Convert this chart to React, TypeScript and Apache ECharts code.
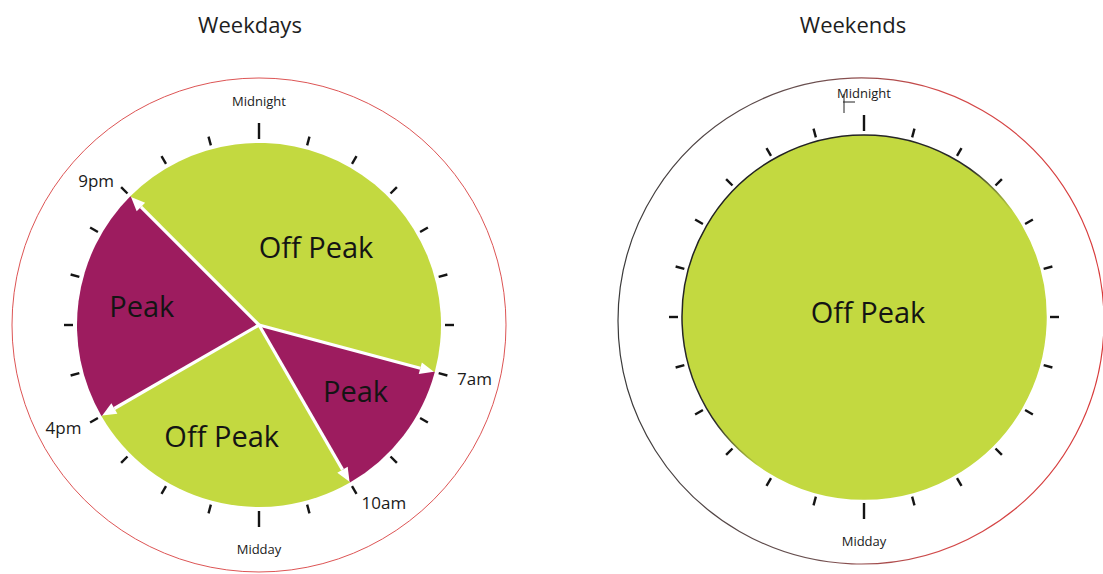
import React, { useEffect, useRef } from "react";
import * as echarts from "echarts";

// ---- data ----
const clockHours = [0, 1, 2, 3, 4, 5, 6, 7, 8, 9, 10, 11, 12, 13, 14, 15, 16, 17, 18, 19, 20, 21, 22, 23];
const dialLabelTexts = ["Midnight", "Midday"];
const dialLabelHours = [0, 12];

const weekdayNames = ["Off Peak", "Peak", "Off Peak", "Peak"];
const weekdayHours = [10, 3, 6, 5];
const weekdayStartHour = 21;
const weekdayBoundaryHours = [21, 7, 10, 16];
const weekdayBoundaryLabels = ["9pm", "7am", "10am", "4pm"];

const weekendNames = ["Off Peak"];
const weekendHours = [24];
const weekendStartHour = 0;

const titles = ["Weekdays", "Weekends"];

// ---- style ----
const FONT = '"Open Sans", "Noto Sans", sans-serif';
const GREEN = "#c3d940";
const PURPLE = "#9d1c5f";
const INK = "#141414";
const colorFor = (name: string) => (name === "Peak" ? PURPLE : GREEN);

const LEFT = { center: [259, 325], outer: 247 };
const RIGHT = { center: [864, 317], outer: 245 };
const RIGHT_RING = { center: [861, 321], outer: 243 };
const PIE_R = 182;
const TICK_IN = 186;
const TICK_OUT = 195;
const TICK_MAJOR_OUT = 202;
const DIAL_LABEL_R = 224;
const HOUR_LABEL_R = 205;

// label nudges for readability (style only)
const weekdayLabelNudge = [
  [10, 3],
  [22, 8],
  [-13, 20],
  [-24, -7],
];

const startAngleFor = (h: number) => (((90 - h * 15) % 360) + 360) % 360;

function tickSeries(polarIndex: number) {
  return {
    type: "custom",
    coordinateSystem: "polar",
    polarIndex,
    silent: true,
    z: 5,
    data: clockHours.map((h) => [TICK_IN, h]),
    renderItem: (params: any, api: any) => {
      const h = api.value(1);
      const major = h % 12 === 0;
      const p0 = api.coord([TICK_IN, h]);
      const p1 = api.coord([major ? TICK_MAJOR_OUT : TICK_OUT, h]);
      return {
        type: "line",
        shape: { x1: p0[0], y1: p0[1], x2: p1[0], y2: p1[1] },
        style: { stroke: INK, lineWidth: 2.4 },
      };
    },
  };
}

function textSeries(polarIndex: number, hours: number[], texts: string[], r: number, size: number, centered: boolean) {
  return {
    type: "custom",
    coordinateSystem: "polar",
    polarIndex,
    silent: true,
    z: 6,
    data: hours.map((h) => [r, h]),
    renderItem: (params: any, api: any) => {
      const h = api.value(1);
      const p = api.coord([r, h]);
      const c = api.coord([0, h]);
      const align = centered ? "center" : p[0] >= c[0] ? "left" : "right";
      return {
        type: "text",
        x: p[0],
        y: p[1],
        style: {
          text: texts[params.dataIndex],
          fill: "#1a1a1a",
          font: `${size}px ${FONT}`,
          textAlign: align,
          align,
          textVerticalAlign: "middle",
          verticalAlign: "middle",
        },
      };
    },
  };
}

function arrowSeries(polarIndex: number, hours: number[]) {
  return {
    type: "custom",
    coordinateSystem: "polar",
    polarIndex,
    silent: true,
    z: 4,
    data: hours.map((h) => [PIE_R, h]),
    renderItem: (params: any, api: any) => {
      const h = api.value(1);
      const c = api.coord([0, h]);
      const tip = api.coord([PIE_R - 1, h]);
      const base = api.coord([PIE_R - 15, h]);
      const dx = tip[0] - c[0];
      const dy = tip[1] - c[1];
      const len = Math.sqrt(dx * dx + dy * dy) || 1;
      const nx = -dy / len;
      const ny = dx / len;
      const hw = 6;
      return {
        type: "group",
        children: [
          {
            type: "line",
            shape: { x1: c[0], y1: c[1], x2: base[0], y2: base[1] },
            style: { stroke: "#ffffff", lineWidth: 3.2 },
          },
          {
            type: "polygon",
            shape: {
              points: [
                [tip[0], tip[1]],
                [base[0] + nx * hw, base[1] + ny * hw],
                [base[0] - nx * hw, base[1] - ny * hw],
              ],
            },
            style: { fill: "#ffffff" },
          },
        ],
      };
    },
  };
}

export default function App() {
  const ref = useRef<HTMLDivElement>(null);

  useEffect(() => {
    if (!ref.current) return;
    const chart = echarts.init(ref.current, undefined, { renderer: "svg" });

    const rightRing = new echarts.graphic.LinearGradient(0, 0, 1, 0, [
      { offset: 0, color: "#3a3a3a" },
      { offset: 0.4, color: "#6a5050" },
      { offset: 0.65, color: "#d24a4a" },
      { offset: 1, color: "#d83a3a" },
    ]);
    const rightPieBorder = new echarts.graphic.LinearGradient(0, 0, 1, 1, [
      { offset: 0, color: "#1e1e1e" },
      { offset: 0.44, color: "#2a2a2a" },
      { offset: 0.56, color: GREEN },
      { offset: 1, color: GREEN },
    ]);

    const angleAxisBase = {
      type: "value",
      min: 0,
      max: 24,
      startAngle: 90,
      clockwise: true,
      axisTick: { show: false },
      axisLabel: { show: false },
      splitLine: { show: false },
      silent: true,
    };

    const titleStyle = { fontFamily: FONT, fontSize: 22, fontWeight: "normal", color: "#1e1e1e" };

    const option: any = {
      animation: false,
      backgroundColor: "#ffffff",
      title: [
        { text: titles[0], left: 250, top: 13, padding: 0, textAlign: "center", textStyle: titleStyle },
        { text: titles[1], left: 853, top: 13, padding: 0, textAlign: "center", textStyle: titleStyle },
      ],
      polar: [
        { center: LEFT.center, radius: LEFT.outer },
        { center: RIGHT.center, radius: RIGHT.outer },
        { center: RIGHT_RING.center, radius: RIGHT_RING.outer },
      ],
      angleAxis: [
        { ...angleAxisBase, polarIndex: 0, axisLine: { show: true, lineStyle: { color: "#dd5555", width: 1 } } },
        { ...angleAxisBase, polarIndex: 1, axisLine: { show: false } },
        { ...angleAxisBase, polarIndex: 2, axisLine: { show: true, lineStyle: { color: rightRing, width: 1.2 } } },
      ],
      radiusAxis: [
        { polarIndex: 0, type: "value", min: 0, max: LEFT.outer, show: false },
        { polarIndex: 1, type: "value", min: 0, max: RIGHT.outer, show: false },
        { polarIndex: 2, type: "value", min: 0, max: RIGHT_RING.outer, show: false },
      ],
      series: [
        {
          type: "pie",
          center: LEFT.center,
          radius: PIE_R,
          startAngle: startAngleFor(weekdayStartHour),
          clockwise: true,
          silent: true,
          z: 2,
          label: {
            show: true,
            position: "inside",
            formatter: "{b}",
            fontFamily: FONT,
            fontSize: 29,
            color: INK,
          },
          labelLine: { show: false },
          labelLayout: (p: any) => ({ dx: weekdayLabelNudge[p.dataIndex][0], dy: weekdayLabelNudge[p.dataIndex][1] }),
          emphasis: { disabled: true },
          itemStyle: { borderWidth: 0 },
          data: weekdayNames.map((name, i) => ({
            name,
            value: weekdayHours[i],
            itemStyle: { color: colorFor(name) },
          })),
        },
        {
          type: "pie",
          center: RIGHT.center,
          radius: PIE_R,
          startAngle: startAngleFor(weekendStartHour),
          clockwise: true,
          silent: true,
          z: 2,
          label: {
            show: true,
            position: "center",
            formatter: "{b}",
            fontFamily: FONT,
            fontSize: 29,
            color: INK,
          },
          labelLayout: { dx: 4, dy: -6 },
          labelLine: { show: false },
          emphasis: { disabled: true },
          itemStyle: { borderWidth: 1.5, borderColor: rightPieBorder },
          data: weekendNames.map((name, i) => ({
            name,
            value: weekendHours[i],
            itemStyle: { color: colorFor(name) },
          })),
        },
        arrowSeries(0, weekdayBoundaryHours),
        tickSeries(0),
        tickSeries(1),
        textSeries(0, dialLabelHours, dialLabelTexts, DIAL_LABEL_R, 13, true),
        textSeries(1, dialLabelHours, dialLabelTexts, DIAL_LABEL_R, 13, true),
        textSeries(0, weekdayBoundaryHours, weekdayBoundaryLabels, HOUR_LABEL_R, 17, false),
      ],
      graphic: [
        { type: "line", shape: { x1: 844, y1: 94, x2: 844, y2: 113 }, style: { stroke: "#222", lineWidth: 1 } },
        { type: "line", shape: { x1: 843, y1: 102, x2: 855, y2: 102 }, style: { stroke: "#222", lineWidth: 1 } },
      ],
    };

    chart.setOption(option);
    return () => chart.dispose();
  }, []);

  return (
    <div
      ref={ref}
      style={{ position: "fixed", left: 0, top: 0, width: 1103, height: 574, background: "#fff" }}
    />
  );
}
